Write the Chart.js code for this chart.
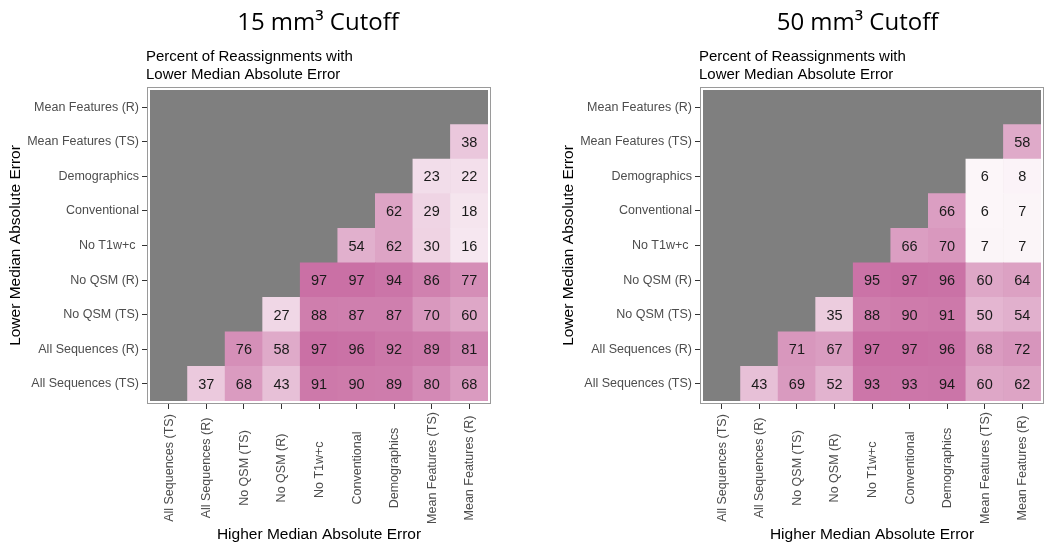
<!DOCTYPE html>
<html><head><meta charset="utf-8">
<script src="https://cdn.jsdelivr.net/npm/chart.js@4.4.1/dist/chart.umd.min.js"></script>
<style>
html,body{margin:0;padding:0;background:#fff;}
#wrap{position:relative;width:1050px;height:552px;overflow:hidden;background:#fff;}
.panel{position:absolute;top:0;width:497px;height:552px;}
</style></head><body>
<div id="wrap">
  <div class="panel" style="left:0px"><canvas id="c1" width="497" height="552"></canvas></div>
  <div class="panel" style="left:553px"><canvas id="c2" width="497" height="552"></canvas></div>
</div>
<script>
// Columns (left to right) - "Higher Median Absolute Error"
const colLabels = ['All Sequences (TS)','All Sequences (R)','No QSM (TS)','No QSM (R)','No T1w+c ','Conventional','Demographics','Mean Features (TS)','Mean Features (R)'];
// Rows (bottom to top) - "Lower Median Absolute Error"
const rowLabels = ['All Sequences (TS)','All Sequences (R)','No QSM (TS)','No QSM (R)','No T1w+c ','Conventional','Demographics','Mean Features (TS)','Mean Features (R)'];

// 15 mm3 cutoff, one array per row (bottom to top); null = grey (no comparison)
const cut15_allSeqTS   = [null, 37, 68, 43, 91, 90, 89, 80, 68];
const cut15_allSeqR    = [null, null, 76, 58, 97, 96, 92, 89, 81];
const cut15_noQsmTS    = [null, null, null, 27, 88, 87, 87, 70, 60];
const cut15_noQsmR     = [null, null, null, null, 97, 97, 94, 86, 77];
const cut15_noT1wc     = [null, null, null, null, null, 54, 62, 30, 16];
const cut15_conv       = [null, null, null, null, null, null, 62, 29, 18];
const cut15_demo       = [null, null, null, null, null, null, null, 23, 22];
const cut15_meanTS     = [null, null, null, null, null, null, null, null, 38];
const cut15_meanR      = [null, null, null, null, null, null, null, null, null];

// 50 mm3 cutoff
const cut50_allSeqTS   = [null, 43, 69, 52, 93, 93, 94, 60, 62];
const cut50_allSeqR    = [null, null, 71, 67, 97, 97, 96, 68, 72];
const cut50_noQsmTS    = [null, null, null, 35, 88, 90, 91, 50, 54];
const cut50_noQsmR     = [null, null, null, null, 95, 97, 96, 60, 64];
const cut50_noT1wc     = [null, null, null, null, null, 66, 70, 7, 7];
const cut50_conv       = [null, null, null, null, null, null, 66, 6, 7];
const cut50_demo       = [null, null, null, null, null, null, null, 6, 8];
const cut50_meanTS     = [null, null, null, null, null, null, null, null, 58];
const cut50_meanR      = [null, null, null, null, null, null, null, null, null];

const panelTitles = ['15 mm³ Cutoff', '50 mm³ Cutoff'];
const subtitleLines = ['Percent of Reassignments with', 'Lower Median Absolute Error'];
const xTitle = 'Higher Median Absolute Error';
const yTitle = 'Lower Median Absolute Error';

const rows15 = [cut15_allSeqTS, cut15_allSeqR, cut15_noQsmTS, cut15_noQsmR, cut15_noT1wc, cut15_conv, cut15_demo, cut15_meanTS, cut15_meanR];
const rows50 = [cut50_allSeqTS, cut50_allSeqR, cut50_noQsmTS, cut50_noQsmR, cut50_noT1wc, cut50_conv, cut50_demo, cut50_meanTS, cut50_meanR];

const SANS = '"Liberation Sans", Arial, sans-serif';

function fillFor(v){
  const t = v / 100;
  const hi = [200, 108, 162];
  const c = hi.map(h => Math.round(255 + (h - 255) * t));
  return `rgb(${c[0]},${c[1]},${c[2]})`;
}

const heatPlugin = {
  id: 'heat',
  beforeDatasetsDraw(chart){
    const {ctx, chartArea:a} = chart;
    ctx.save();
    ctx.fillStyle = '#7f7f7f';
    ctx.fillRect(a.left, a.top, a.right - a.left, a.bottom - a.top);
    ctx.restore();
  },
  afterDatasetsDraw(chart){
    const {ctx} = chart;
    ctx.save();
    ctx.font = '14.5px ' + SANS;
    ctx.fillStyle = '#1a1a1a';
    ctx.textAlign = 'center';
    ctx.textBaseline = 'middle';
    chart.data.datasets.forEach((ds, di) => {
      const meta = chart.getDatasetMeta(di);
      ds.values.forEach((v, j) => {
        if (v == null) return;
        const el = meta.data[j];
        const p = el.getCenterPoint();
        ctx.fillText(String(v), p.x, p.y + 1);
      });
    });
    ctx.restore();
  },
  afterDraw(chart, args, opts){
    const {ctx, chartArea:a} = chart;
    ctx.save();
    // white band + grey frame around panel
    ctx.fillStyle = '#ffffff';
    ctx.fillRect(a.left - 2, a.top - 2, a.right - a.left + 4, 2);
    ctx.fillRect(a.left - 2, a.bottom, a.right - a.left + 4, 2);
    ctx.fillRect(a.left - 2, a.top, 2, a.bottom - a.top);
    ctx.fillRect(a.right, a.top, 2, a.bottom - a.top);
    ctx.strokeStyle = '#9a9a9a';
    ctx.lineWidth = 1;
    ctx.strokeRect(a.left - 2.5, a.top - 2.5, a.right - a.left + 5, a.bottom - a.top + 5);

    // x tick labels, rotated and centred on tick
    const xs = chart.scales.x;
    ctx.font = '12.5px ' + SANS;
    ctx.fillStyle = '#4d4d4d';
    ctx.textAlign = 'center';
    ctx.textBaseline = 'middle';
    colLabels.forEach((lab, i) => {
      const x = xs.getPixelForTick(i);
      ctx.save();
      ctx.translate(x + 0.5, a.bottom + 67);
      ctx.rotate(-Math.PI / 2);
      ctx.fillText(lab, 0, 0);
      ctx.restore();
    });

    // main title
    ctx.font = '24px "Open Sans", sans-serif';
    ctx.fillStyle = '#000';
    ctx.textAlign = 'center';
    ctx.textBaseline = 'alphabetic';
    ctx.fillText(opts.title, a.left + opts.titleDx, 30);

    // subtitle
    ctx.font = '15px ' + SANS;
    ctx.textAlign = 'left';
    ctx.fillText(subtitleLines[0], a.left - 4, 60.5);
    ctx.fillText(subtitleLines[1], a.left - 4, 78.5);
    ctx.restore();
  }
};

function makeChart(id, rows, title, titleDx){
  const datasets = rowLabels.map((rl, i) => ({
    label: rl,
    values: rows[i],
    data: rows[i].map(v => v == null ? null : [i, i + 1]),
    backgroundColor: rows[i].map(v => v == null ? 'rgba(0,0,0,0)' : fillFor(v)),
    borderWidth: 0,
    grouped: false,
    barPercentage: 1,
    categoryPercentage: 1
  }));
  return new Chart(document.getElementById(id), {
    type: 'bar',
    data: { labels: colLabels, datasets },
    plugins: [heatPlugin],
    options: {
      responsive: false,
      animation: false,
      events: [],
      layout: { padding: { left: 0, right: 9, top: 90, bottom: 0 } },
      plugins: {
        legend: { display: false },
        tooltip: { enabled: false },
        heat: { title, titleDx }
      },
      scales: {
        x: {
          type: 'category',
          offset: true,
          grid: { display: true, offset: false, drawOnChartArea: false, drawTicks: true, tickLength: 8, color: '#333333', lineWidth: 1 },
          border: { display: false },
          ticks: { display: false, autoSkip: false },
          title: { display: true, text: xTitle, color: '#000', font: { family: SANS, size: 15.5 }, padding: { top: 0, bottom: 8 } },
          afterFit(s){ s.height = 151; }
        },
        y: {
          type: 'linear',
          min: 0, max: 9,
          afterBuildTicks(s){ s.ticks = rowLabels.map((_, i) => ({ value: i + 0.5 })); },
          grid: { display: true, drawOnChartArea: false, drawTicks: true, tickLength: 8, color: '#333333', lineWidth: 1 },
          border: { display: false },
          ticks: {
            autoSkip: false,
            padding: 3,
            color: '#4d4d4d',
            font: { family: SANS, size: 12.5 },
            callback: (v) => rowLabels[Math.floor(v)]
          },
          title: { display: true, text: yTitle, color: '#000', font: { family: SANS, size: 15.5 }, padding: { top: 6.7, bottom: 0 } },
          afterFit(s){ s.width = 150; }
        }
      }
    }
  });
}

makeChart('c1', rows15, panelTitles[0], 168);
makeChart('c2', rows50, panelTitles[1], 154.5);
</script>
</body></html>
